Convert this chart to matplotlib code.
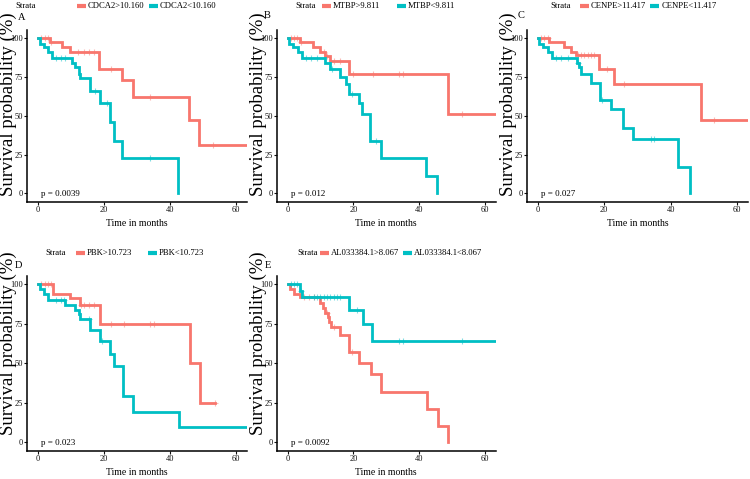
import matplotlib
matplotlib.use('Agg')
import matplotlib.pyplot as plt
import numpy as np
from matplotlib.lines import Line2D

plt.rcParams['font.family'] = ['Liberation Serif', 'DejaVu Serif']

RED = '#F8766D'
TEAL = '#00BFC4'

# ---------------- data ----------------
panel_letters = ['A', 'B', 'C', 'D', 'E']
high_labels = ['CDCA2>10.160', 'MTBP>9.811', 'CENPE>11.417', 'PBK>10.723', 'AL033384.1>8.067']
low_labels = ['CDCA2<10.160', 'MTBP<9.811', 'CENPE<11.417', 'PBK<10.723', 'AL033384.1<8.067']
p_values = ['p = 0.0039', 'p = 0.012', 'p = 0.027', 'p = 0.023', 'p = 0.0092']

# A: CDCA2
a_hi_t = [0, 3.7, 7.2, 9.8, 18.6, 25.5, 28.7, 45.7, 48.7, 64]
a_hi_s = [100, 97, 94, 91, 80, 73, 62, 47, 31, 31]
a_hi_c = [1, 2, 3, 4, 12, 14, 15.5, 17, 22, 34, 53]
a_lo_t = [0, 0.5, 1.7, 3.2, 4.2, 10.3, 11.3, 12.3, 12.8, 15.9, 18.9, 21.9, 22.9, 25.5, 42.3]
a_lo_s = [100, 96, 94, 91, 87, 84, 81, 77, 74, 66, 58, 46, 34, 23, 0]
a_lo_c = [5.5, 7, 8.2, 17.4, 20.9, 34]

# B: MTBP
b_hi_t = [0, 3.7, 7.8, 9.8, 11.3, 12.8, 18.7, 48.7, 64]
b_hi_s = [100, 97, 94, 91, 88, 85, 77, 51, 51]
b_hi_c = [1, 2, 3, 4, 11, 12, 14, 16, 20, 26, 34, 35, 53]
b_lo_t = [0, 0.5, 1.7, 3.2, 4.4, 11.3, 12.8, 15.9, 17.8, 18.7, 21.8, 22.6, 25.2, 28.5, 42.1, 45.5]
b_lo_s = [100, 96, 94, 91, 87, 84, 80, 75, 70, 64, 58, 51, 34, 23, 11, 0]
b_lo_c = [5.5, 7, 9, 13.5, 19.5, 27]

# C: CENPE
c_hi_t = [0, 3.5, 7.8, 10.0, 11.6, 18.6, 22.9, 49.2, 64]
c_hi_s = [100, 97, 94, 91, 89, 80, 70, 47, 47]
c_hi_c = [1, 2, 3, 12, 13, 14, 15, 16, 17, 21, 26, 53]
c_lo_t = [0, 0.5, 1.7, 3.2, 4.4, 11.8, 12.5, 12.9, 16.0, 18.7, 22.0, 25.6, 28.7, 42.3, 45.9]
c_lo_s = [100, 96, 94, 91, 87, 84, 81, 77, 71, 60, 54, 42, 35, 17, 0]
c_lo_c = [5.5, 7, 9, 12, 19.5, 34, 35]

# D: PBK
d_hi_t = [0, 4.5, 9.8, 12.8, 18.7, 45.9, 49.0, 53.7]
d_hi_s = [100, 94, 91, 87, 75, 50, 25, 25]
d_hi_c = [1, 2, 3, 4, 13, 14, 15.5, 17, 22, 26, 34, 35, 53.5]
d_lo_t = [0, 0.5, 1.7, 3.2, 8.3, 11.3, 12.3, 12.8, 15.9, 18.9, 21.9, 22.9, 25.8, 28.8, 42.6, 64]
d_lo_s = [100, 97, 94, 90, 87, 84, 81, 78, 71, 64, 56, 48, 29, 19, 9.5, 9.5]
d_lo_c = [5.5, 7, 8, 15.5, 19.5]

# E: AL033384.1
e_hi_t = [0, 0.7, 1.9, 3.7, 9.8, 10.7, 11.5, 12.2, 12.7, 13.2, 15.9, 18.7, 21.7, 25.5, 28.5, 42.3, 45.7, 48.7]
e_hi_s = [100, 97, 94, 92, 88, 85, 82, 79, 76, 73, 68, 57, 50, 43, 32, 21, 10, 0]
e_hi_c = [5, 6.5, 8, 12, 14, 19.5]
e_lo_t = [0, 3.7, 4.5, 18.6, 22.9, 25.8, 64]
e_lo_s = [100, 96, 92, 84, 75, 64, 64]
e_lo_c = [1, 2, 3, 4, 8, 9, 10, 11, 12, 13, 14, 15, 16, 21, 34, 35, 53]

hi_t = [a_hi_t, b_hi_t, c_hi_t, d_hi_t, e_hi_t]
hi_s = [a_hi_s, b_hi_s, c_hi_s, d_hi_s, e_hi_s]
hi_c = [a_hi_c, b_hi_c, c_hi_c, d_hi_c, e_hi_c]
lo_t = [a_lo_t, b_lo_t, c_lo_t, d_lo_t, e_lo_t]
lo_s = [a_lo_s, b_lo_s, c_lo_s, d_lo_s, e_lo_s]
lo_c = [a_lo_c, b_lo_c, c_lo_c, d_lo_c, e_lo_c]

x_ticks = [0, 20, 40, 60]
y_ticks = [0, 25, 50, 75, 100]

# ---------------- layout ----------------
W, H = 750, 479
fig = plt.figure(figsize=(7.5, 4.79), dpi=100)
renderer = fig.canvas.get_renderer()

# axes boxes in pixels: left, top, right, bottom
boxes = [(27, 30, 247, 202), (276.7, 30, 495.7, 202), (526.7, 30, 748, 202),
         (27, 276.4, 247, 450.7), (276.7, 276.4, 495.7, 450.7)]
legend_y = [6, 6, 6, 253, 253]
strata_x = [15, 295, 550, 45, 297]
red_key_x = [77, 322, 580, 76, 320]
teal_key_x = [147, 397, 649, 148, 397]
letter_xy = [(22, 17), (267, 15), (521, 16), (18, 266), (268, 265)]
ylab_base_x = 13          # baseline of the rotated y label, px from column left
ylab_y = [104, 104, 104, 343.5, 343.5]
LEG_FS = 6.2


def censor_y(t, s, c):
    t = np.asarray(t, float)
    s = np.asarray(s, float)
    idx = np.searchsorted(t, np.asarray(c, float), side='right') - 1
    return s[idx]


def legend_key(x_px, y_px, color):
    fig.add_artist(Line2D([x_px / W, (x_px + 9) / W], [1 - y_px / H, 1 - y_px / H],
                          transform=fig.transFigure, color=color, lw=3,
                          solid_capstyle='butt'))


for i in range(5):
    l, tp, r, b = boxes[i]
    ax = fig.add_axes([l / W, 1 - b / H, (r - l) / W, (b - tp) / H])
    for t, s, c, col in [(hi_t[i], hi_s[i], hi_c[i], RED), (lo_t[i], lo_s[i], lo_c[i], TEAL)]:
        ax.step(t, s, where='post', color=col, lw=2.0, solid_joinstyle='miter')
        ax.plot(c, censor_y(t, s, c), ls='none', marker='+', ms=5, mew=0.8,
                color=col, alpha=0.5)
    ax.set_xlim(-3.3, 63.3)
    ax.set_ylim(-5.5, 105)
    ax.set_xticks(x_ticks)
    ax.set_yticks(y_ticks)
    for sp in ['top', 'right']:
        ax.spines[sp].set_visible(False)
    for sp in ['left', 'bottom']:
        ax.spines[sp].set_linewidth(1.1)
        ax.spines[sp].set_color('black')
    ax.tick_params(labelsize=6, length=2, width=0.8, pad=0.8, colors='#111111')
    ax.set_xlabel('Time in months', fontsize=7, va='center')
    ax.xaxis.set_label_coords(0.5, -22 / (b - tp))
    ax.text(1, -0.5, p_values[i], fontsize=6.5, ha='left', va='center')

    fig.text((ylab_base_x + (l - 27)) / W, 1 - ylab_y[i] / H, 'Survival probability (%)',
             fontsize=13.5, rotation=90, rotation_mode='anchor',
             ha='center', va='baseline')

    ly = 1 - legend_y[i] / H
    fig.text(strata_x[i] / W, ly, 'Strata', fontsize=LEG_FS, ha='left', va='center')
    legend_key(red_key_x[i], legend_y[i], RED)
    t_red = fig.text((red_key_x[i] + 11) / W, ly, high_labels[i], fontsize=LEG_FS,
                     ha='left', va='center')
    red_end = t_red.get_window_extent(renderer).x1
    tx = max(teal_key_x[i], red_end + 4)
    legend_key(tx, legend_y[i], TEAL)
    fig.text((tx + 11) / W, ly, low_labels[i], fontsize=LEG_FS, ha='left', va='center')

    fig.text(letter_xy[i][0] / W, 1 - letter_xy[i][1] / H, panel_letters[i],
             fontsize=7.5, ha='center', va='center')

fig.savefig('out.png', dpi=100)
